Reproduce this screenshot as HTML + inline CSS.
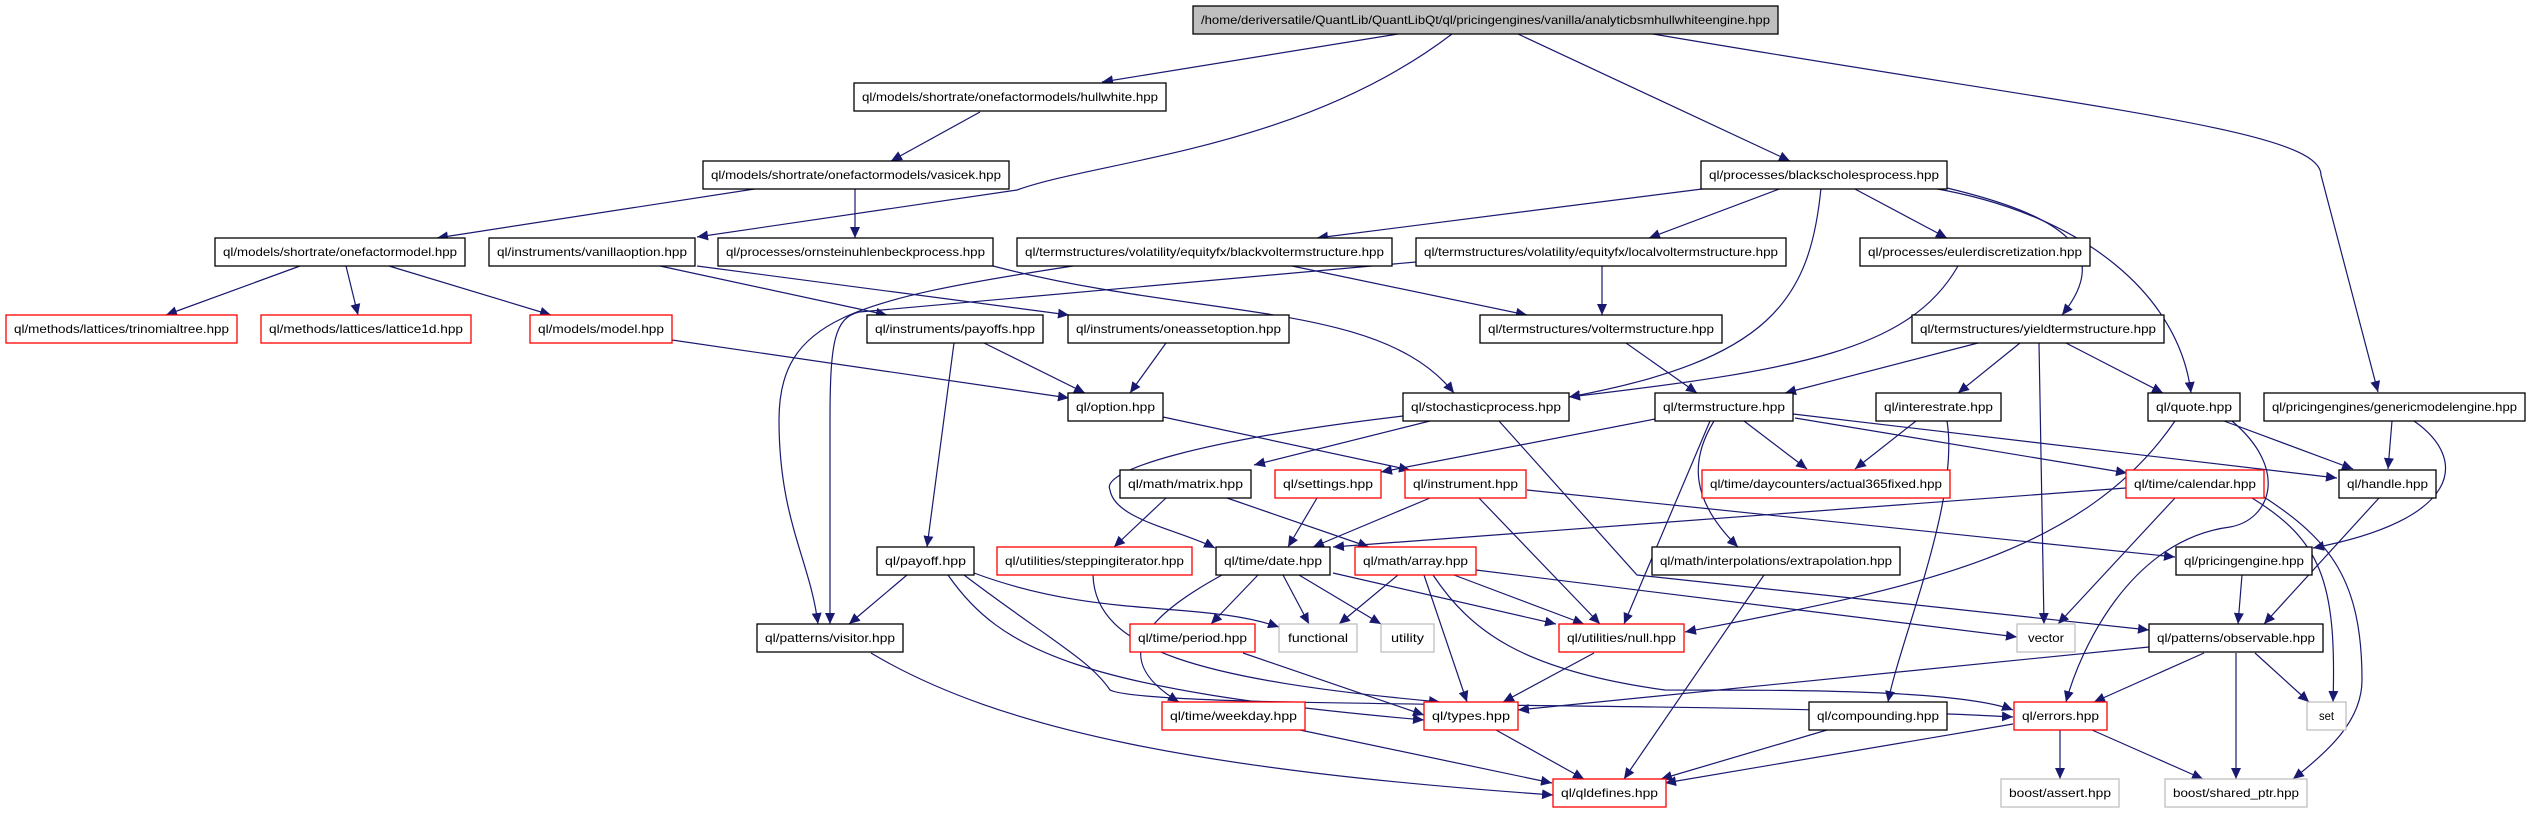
<!DOCTYPE html>
<html><head><meta charset="utf-8"><style>
html,body{margin:0;padding:0;background:#fff;}
svg{display:block;}
text{font-family:"Liberation Sans",sans-serif;font-size:12px;fill:#000;}
.e{fill:none;stroke:#191970;stroke-width:1.2;marker-end:url(#a);}
.b{fill:#fff;stroke:#000;stroke-width:1.3;}
.r{fill:#fff;stroke:#ff0000;stroke-width:1.3;}
.g{fill:#fff;stroke:#bfbfbf;stroke-width:1.3;}
</style></head><body>
<svg width="2533" height="813" viewBox="0 0 2533 813" xmlns="http://www.w3.org/2000/svg">
<defs><marker id="a" markerUnits="userSpaceOnUse" markerWidth="12" markerHeight="10" refX="11" refY="5" orient="auto"><path d="M0,0 L11,5 L0,10 Z" fill="#191970"/></marker></defs>
<g>
<path class="e" d="M1398,34 L1102,82"/>
<path class="e" d="M1452,34 C1300,150 1100,160 1017,190 L697,237"/>
<path class="e" d="M1518,34 L1790,161"/>
<path class="e" d="M1653,34 C2100,110 2321,130 2321,175 L2378,392"/>
<path class="e" d="M980,112 L891,161"/>
<path class="e" d="M761,188 L437,238"/>
<path class="e" d="M855,188 L855,238"/>
<path class="e" d="M1710,188 L1317,238"/>
<path class="e" d="M1782,188 L1649,238"/>
<path class="e" d="M1853,188 L1947,238"/>
<path class="e" d="M1821,188 C1810,300 1770,360 1569,397"/>
<path class="e" d="M1947,188 C2060,215 2115,250 2062,315"/>
<path class="e" d="M1932,188 C2090,215 2180,300 2191,393"/>
<path class="e" d="M300,266 L166,315"/>
<path class="e" d="M346,266 L358,315"/>
<path class="e" d="M389,266 L551,315"/>
<path class="e" d="M660,266 L887,315"/>
<path class="e" d="M697,266 L1069,315"/>
<path class="e" d="M993,266 C1200,320 1380,300 1454,393"/>
<path class="e" d="M1073,266 C850,300 779,320 779,420 C779,520 810,560 818,624"/>
<path class="e" d="M1416,262 L859,312 C835,318 830,340 830,420 L830,624"/>
<path class="e" d="M1602,266 L1602,315"/>
<path class="e" d="M1292,266 L1527,315"/>
<path class="e" d="M1958,266 C1910,350 1800,370 1569,397"/>
<path class="e" d="M1978,343 L1785,393"/>
<path class="e" d="M2020,343 L1958,393"/>
<path class="e" d="M2039,343 L2044,624"/>
<path class="e" d="M2066,343 L2163,393"/>
<path class="e" d="M984,343 L1085,393"/>
<path class="e" d="M954,343 L927,547"/>
<path class="e" d="M1166,343 L1130,393"/>
<path class="e" d="M672,340 L1069,398"/>
<path class="e" d="M1626,343 L1697,393"/>
<path class="e" d="M2392,421 L2388,469"/>
<path class="e" d="M2414,421 C2470,460 2460,520 2313,548"/>
<path class="e" d="M2224,421 L2353,469"/>
<path class="e" d="M2175,421 C2080,560 1900,590 1685,632"/>
<path class="e" d="M2232,421 C2290,470 2270,520 2230,527 C2130,540 2080,650 2066,702"/>
<path class="e" d="M1430,421 L1254,465"/>
<path class="e" d="M1403,416 C1200,440 1100,470 1110,490 C1115,520 1180,530 1215,548"/>
<path class="e" d="M1499,421 L1637,575 L2149,630"/>
<path class="e" d="M1655,419 L1381,472"/>
<path class="e" d="M1710,421 L1624,624"/>
<path class="e" d="M1744,421 L1807,469"/>
<path class="e" d="M1795,418 L2127,473"/>
<path class="e" d="M1793,414 L2337,478"/>
<path class="e" d="M1714,421 C1690,460 1690,500 1738,547"/>
<path class="e" d="M1916,421 L1855,469"/>
<path class="e" d="M1947,421 C1960,500 1900,640 1888,702"/>
<path class="e" d="M1163,417 L1410,470"/>
<path class="e" d="M1166,498 L1114,547"/>
<path class="e" d="M1227,498 L1369,547"/>
<path class="e" d="M1317,498 L1288,547"/>
<path class="e" d="M1430,498 L1313,547"/>
<path class="e" d="M1479,498 L1600,624"/>
<path class="e" d="M1527,490 L2175,557"/>
<path class="e" d="M2126,488 L1333,547"/>
<path class="e" d="M2175,498 L2058,624"/>
<path class="e" d="M2252,498 C2320,540 2337,580 2333,702"/>
<path class="e" d="M2264,497 C2330,540 2362,580 2362,680 C2362,720 2330,750 2293,779"/>
<path class="e" d="M2379,498 L2264,624"/>
<path class="e" d="M2242,575 L2238,624"/>
<path class="e" d="M1093,575 C1095,650 1200,680 1440,702"/>
<path class="e" d="M1283,575 L1309,624"/>
<path class="e" d="M1299,575 L1381,624"/>
<path class="e" d="M1333,573 L1556,624"/>
<path class="e" d="M1258,575 L1211,624"/>
<path class="e" d="M1222,575 C1140,620 1110,660 1179,702"/>
<path class="e" d="M1398,575 L1339,624"/>
<path class="e" d="M1454,575 L1584,624"/>
<path class="e" d="M1424,575 L1467,702"/>
<path class="e" d="M1433,575 C1470,630 1520,670 1665,690 C1800,690 1960,690 2013,710"/>
<path class="e" d="M1476,570 L2017,637"/>
<path class="e" d="M1764,575 L1624,779"/>
<path class="e" d="M907,575 L849,624"/>
<path class="e" d="M974,573 C1100,620 1200,600 1279,627"/>
<path class="e" d="M948,575 C1000,650 1080,690 1424,720"/>
<path class="e" d="M964,575 C1050,640 1090,660 1110,690 C1150,710 1700,700 2013,717"/>
<path class="e" d="M871,653 C1000,730 1200,770 1553,795"/>
<path class="e" d="M1243,653 L1424,715"/>
<path class="e" d="M1594,653 L1503,702"/>
<path class="e" d="M2149,647 L1518,710"/>
<path class="e" d="M2204,653 L2094,702"/>
<path class="e" d="M2255,653 L2309,702"/>
<path class="e" d="M2236,653 L2236,779"/>
<path class="e" d="M1496,730 L1584,779"/>
<path class="e" d="M1300,730 L1552,783"/>
<path class="e" d="M1827,730 L1661,779"/>
<path class="e" d="M2013,724 L1665,783"/>
<path class="e" d="M2060,730 L2060,779"/>
<path class="e" d="M2092,730 L2203,779"/>
</g>
<g>
<rect x="1193" y="6" width="585" height="28" fill="#bfbfbf" stroke="#000" stroke-width="1.3"/><text x="1485.5" y="24" text-anchor="middle" textLength="569" lengthAdjust="spacingAndGlyphs">/home/deriversatile/QuantLib/QuantLibQt/ql/pricingengines/vanilla/analyticbsmhullwhiteengine.hpp</text>
<rect class="b" x="854" y="83" width="312" height="28"/><text x="1010" y="101" text-anchor="middle" textLength="296" lengthAdjust="spacingAndGlyphs">ql/models/shortrate/onefactormodels/hullwhite.hpp</text>
<rect class="b" x="703" y="161" width="306" height="28"/><text x="856" y="179" text-anchor="middle" textLength="290" lengthAdjust="spacingAndGlyphs">ql/models/shortrate/onefactormodels/vasicek.hpp</text>
<rect class="b" x="1701" y="161" width="246" height="28"/><text x="1824" y="179" text-anchor="middle" textLength="230" lengthAdjust="spacingAndGlyphs">ql/processes/blackscholesprocess.hpp</text>
<rect class="b" x="215" y="238" width="250" height="28"/><text x="340" y="256" text-anchor="middle" textLength="234" lengthAdjust="spacingAndGlyphs">ql/models/shortrate/onefactormodel.hpp</text>
<rect class="b" x="489" y="238" width="206" height="28"/><text x="592" y="256" text-anchor="middle" textLength="190" lengthAdjust="spacingAndGlyphs">ql/instruments/vanillaoption.hpp</text>
<rect class="b" x="718" y="238" width="275" height="28"/><text x="855.5" y="256" text-anchor="middle" textLength="259" lengthAdjust="spacingAndGlyphs">ql/processes/ornsteinuhlenbeckprocess.hpp</text>
<rect class="b" x="1017" y="238" width="375" height="28"/><text x="1204.5" y="256" text-anchor="middle" textLength="359" lengthAdjust="spacingAndGlyphs">ql/termstructures/volatility/equityfx/blackvoltermstructure.hpp</text>
<rect class="b" x="1416" y="238" width="370" height="28"/><text x="1601" y="256" text-anchor="middle" textLength="354" lengthAdjust="spacingAndGlyphs">ql/termstructures/volatility/equityfx/localvoltermstructure.hpp</text>
<rect class="b" x="1860" y="238" width="230" height="28"/><text x="1975" y="256" text-anchor="middle" textLength="214" lengthAdjust="spacingAndGlyphs">ql/processes/eulerdiscretization.hpp</text>
<rect class="r" x="6" y="315" width="231" height="28"/><text x="121.5" y="333" text-anchor="middle" textLength="215" lengthAdjust="spacingAndGlyphs">ql/methods/lattices/trinomialtree.hpp</text>
<rect class="r" x="261" y="315" width="210" height="28"/><text x="366" y="333" text-anchor="middle" textLength="194" lengthAdjust="spacingAndGlyphs">ql/methods/lattices/lattice1d.hpp</text>
<rect class="r" x="530" y="315" width="142" height="28"/><text x="601" y="333" text-anchor="middle" textLength="126" lengthAdjust="spacingAndGlyphs">ql/models/model.hpp</text>
<rect class="b" x="867" y="315" width="176" height="28"/><text x="955" y="333" text-anchor="middle" textLength="160" lengthAdjust="spacingAndGlyphs">ql/instruments/payoffs.hpp</text>
<rect class="b" x="1068" y="315" width="221" height="28"/><text x="1178.5" y="333" text-anchor="middle" textLength="205" lengthAdjust="spacingAndGlyphs">ql/instruments/oneassetoption.hpp</text>
<rect class="b" x="1480" y="315" width="242" height="28"/><text x="1601" y="333" text-anchor="middle" textLength="226" lengthAdjust="spacingAndGlyphs">ql/termstructures/voltermstructure.hpp</text>
<rect class="b" x="1912" y="315" width="252" height="28"/><text x="2038" y="333" text-anchor="middle" textLength="236" lengthAdjust="spacingAndGlyphs">ql/termstructures/yieldtermstructure.hpp</text>
<rect class="b" x="1068" y="393" width="95" height="28"/><text x="1115.5" y="411" text-anchor="middle" textLength="79" lengthAdjust="spacingAndGlyphs">ql/option.hpp</text>
<rect class="b" x="1403" y="393" width="166" height="28"/><text x="1486" y="411" text-anchor="middle" textLength="150" lengthAdjust="spacingAndGlyphs">ql/stochasticprocess.hpp</text>
<rect class="b" x="1655" y="393" width="138" height="28"/><text x="1724" y="411" text-anchor="middle" textLength="122" lengthAdjust="spacingAndGlyphs">ql/termstructure.hpp</text>
<rect class="b" x="1876" y="393" width="125" height="28"/><text x="1938.5" y="411" text-anchor="middle" textLength="109" lengthAdjust="spacingAndGlyphs">ql/interestrate.hpp</text>
<rect class="b" x="2148" y="393" width="92" height="28"/><text x="2194" y="411" text-anchor="middle" textLength="76" lengthAdjust="spacingAndGlyphs">ql/quote.hpp</text>
<rect class="b" x="2264" y="393" width="261" height="28"/><text x="2394.5" y="411" text-anchor="middle" textLength="245" lengthAdjust="spacingAndGlyphs">ql/pricingengines/genericmodelengine.hpp</text>
<rect class="b" x="1120" y="470" width="131" height="28"/><text x="1185.5" y="488" text-anchor="middle" textLength="115" lengthAdjust="spacingAndGlyphs">ql/math/matrix.hpp</text>
<rect class="r" x="1275" y="470" width="106" height="28"/><text x="1328" y="488" text-anchor="middle" textLength="90" lengthAdjust="spacingAndGlyphs">ql/settings.hpp</text>
<rect class="r" x="1405" y="470" width="121" height="28"/><text x="1465.5" y="488" text-anchor="middle" textLength="105" lengthAdjust="spacingAndGlyphs">ql/instrument.hpp</text>
<rect class="r" x="1702" y="470" width="248" height="28"/><text x="1826" y="488" text-anchor="middle" textLength="232" lengthAdjust="spacingAndGlyphs">ql/time/daycounters/actual365fixed.hpp</text>
<rect class="r" x="2126" y="470" width="138" height="28"/><text x="2195" y="488" text-anchor="middle" textLength="122" lengthAdjust="spacingAndGlyphs">ql/time/calendar.hpp</text>
<rect class="b" x="2339" y="470" width="97" height="28"/><text x="2387.5" y="488" text-anchor="middle" textLength="81" lengthAdjust="spacingAndGlyphs">ql/handle.hpp</text>
<rect class="b" x="877" y="547" width="97" height="28"/><text x="925.5" y="565" text-anchor="middle" textLength="81" lengthAdjust="spacingAndGlyphs">ql/payoff.hpp</text>
<rect class="r" x="997" y="547" width="195" height="28"/><text x="1094.5" y="565" text-anchor="middle" textLength="179" lengthAdjust="spacingAndGlyphs">ql/utilities/steppingiterator.hpp</text>
<rect class="b" x="1216" y="547" width="114" height="28"/><text x="1273" y="565" text-anchor="middle" textLength="98" lengthAdjust="spacingAndGlyphs">ql/time/date.hpp</text>
<rect class="r" x="1355" y="547" width="121" height="28"/><text x="1415.5" y="565" text-anchor="middle" textLength="105" lengthAdjust="spacingAndGlyphs">ql/math/array.hpp</text>
<rect class="b" x="1652" y="547" width="248" height="28"/><text x="1776" y="565" text-anchor="middle" textLength="232" lengthAdjust="spacingAndGlyphs">ql/math/interpolations/extrapolation.hpp</text>
<rect class="b" x="2176" y="547" width="136" height="28"/><text x="2244" y="565" text-anchor="middle" textLength="120" lengthAdjust="spacingAndGlyphs">ql/pricingengine.hpp</text>
<rect class="b" x="757" y="624" width="146" height="28"/><text x="830" y="642" text-anchor="middle" textLength="130" lengthAdjust="spacingAndGlyphs">ql/patterns/visitor.hpp</text>
<rect class="r" x="1130" y="624" width="125" height="28"/><text x="1192.5" y="642" text-anchor="middle" textLength="109" lengthAdjust="spacingAndGlyphs">ql/time/period.hpp</text>
<rect class="g" x="1279" y="624" width="78" height="28"/><text x="1318" y="642" text-anchor="middle" textLength="60" lengthAdjust="spacingAndGlyphs">functional</text>
<rect class="g" x="1381" y="624" width="53" height="28"/><text x="1407.5" y="642" text-anchor="middle" textLength="33" lengthAdjust="spacingAndGlyphs">utility</text>
<rect class="r" x="1559" y="624" width="125" height="28"/><text x="1621.5" y="642" text-anchor="middle" textLength="109" lengthAdjust="spacingAndGlyphs">ql/utilities/null.hpp</text>
<rect class="g" x="2017" y="624" width="58" height="28"/><text x="2046" y="642" text-anchor="middle" textLength="36" lengthAdjust="spacingAndGlyphs">vector</text>
<rect class="b" x="2149" y="624" width="174" height="28"/><text x="2236" y="642" text-anchor="middle" textLength="158" lengthAdjust="spacingAndGlyphs">ql/patterns/observable.hpp</text>
<rect class="r" x="1162" y="702" width="143" height="28"/><text x="1233.5" y="720" text-anchor="middle" textLength="127" lengthAdjust="spacingAndGlyphs">ql/time/weekday.hpp</text>
<rect class="r" x="1424" y="702" width="94" height="28"/><text x="1471" y="720" text-anchor="middle" textLength="78" lengthAdjust="spacingAndGlyphs">ql/types.hpp</text>
<rect class="b" x="1809" y="702" width="138" height="28"/><text x="1878" y="720" text-anchor="middle" textLength="122" lengthAdjust="spacingAndGlyphs">ql/compounding.hpp</text>
<rect class="r" x="2014" y="702" width="93" height="28"/><text x="2060.5" y="720" text-anchor="middle" textLength="77" lengthAdjust="spacingAndGlyphs">ql/errors.hpp</text>
<rect class="g" x="2307" y="702" width="39" height="28"/><text x="2326.5" y="720" text-anchor="middle" textLength="15" lengthAdjust="spacingAndGlyphs">set</text>
<rect class="r" x="1553" y="779" width="113" height="28"/><text x="1609.5" y="797" text-anchor="middle" textLength="97" lengthAdjust="spacingAndGlyphs">ql/qldefines.hpp</text>
<rect class="g" x="2001" y="779" width="118" height="28"/><text x="2060" y="797" text-anchor="middle" textLength="102" lengthAdjust="spacingAndGlyphs">boost/assert.hpp</text>
<rect class="g" x="2165" y="779" width="142" height="28"/><text x="2236" y="797" text-anchor="middle" textLength="126" lengthAdjust="spacingAndGlyphs">boost/shared_ptr.hpp</text>
</g>
</svg>
</body></html>
